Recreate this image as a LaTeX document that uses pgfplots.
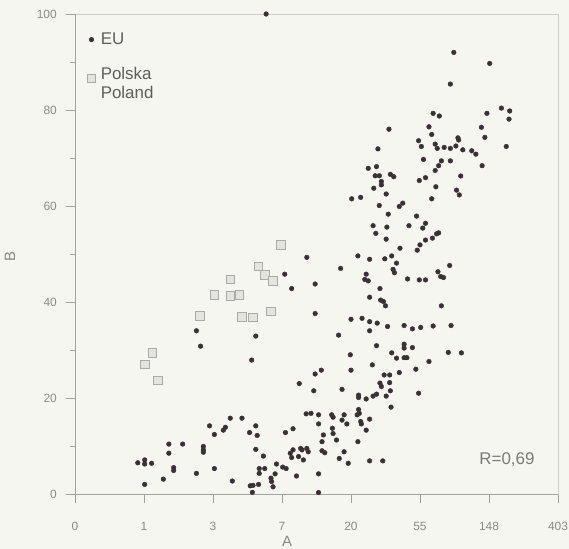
\documentclass[border=0pt]{standalone}
\usepackage{pgfplots}
\pgfplotsset{compat=1.18}
\usepackage{fontspec}
\setmainfont{Liberation Sans}
\definecolor{bgcol}{HTML}{F6F6F1}
\definecolor{framecol}{HTML}{CDCDCA}
\definecolor{axiscol}{HTML}{A3A3A0}
\definecolor{tickcol}{HTML}{A0A09C}
\definecolor{labelcol}{HTML}{8A8A86}
\definecolor{legcol}{HTML}{5E5E5B}
\definecolor{rcol}{HTML}{7A7A77}
\definecolor{dotcol}{HTML}{3A3136}
\definecolor{sqfill}{HTML}{E3E3E0}
\definecolor{sqdraw}{HTML}{AAAAA7}
\begin{document}
\begin{tikzpicture}
\fill[bgcol] (-75bp,-55bp) rectangle (494bp,494bp);
\begin{axis}[
  at={(0,0)}, anchor=south west,
  scale only axis, width=483bp, height=480bp,
  xmin=0, xmax=7, ymin=0, ymax=100,
  clip=false,
  axis line style={draw=framecol, line width=0.8bp},
  xtick={0,1,2,3,4,5,6,7}, xticklabels={0,1,3,7,20,55,148,403},
  ytick={0,20,40,60,80,100}, minor y tick num=1,
  xtick pos=bottom, ytick pos=left,
  tick align=outside, major tick length=9bp, minor tick length=5bp,
  tick style={draw=tickcol, line width=0.6bp},
  /pgf/number format/assume math mode=true,
  tick label style={font=\fontsize{12}{14}\selectfont, text=labelcol},
  xticklabel style={anchor=north, inner sep=0pt, yshift=-19bp},
  yticklabel style={anchor=east, inner sep=0pt, xshift=-9bp},
  xlabel={A}, ylabel={B},
  xlabel style={at={(axis description cs:0.439,-0.088)}, anchor=north, inner sep=0pt, font=\fontsize{15}{17}\selectfont, text=labelcol},
  ylabel style={at={(axis description cs:-0.1346,0.494)}, anchor=center, inner sep=0pt, font=\fontsize{15}{17}\selectfont, text=labelcol},
  legend style={at={(axis cs:0.13,96.9)}, anchor=north west, draw=none, fill=none,
    font=\fontsize{17}{19}\selectfont, text=legcol, cells={anchor=west}, row sep=16bp,
    nodes={inner xsep=5bp}},
  legend cell align=left,
]
\draw[axiscol, line width=0.8bp] (rel axis cs:0,1) -- (rel axis cs:0,0) -- (rel axis cs:1,0);
\addplot[only marks, mark=*, mark size=2.35bp, mark options={draw=dotcol, fill=dotcol}] coordinates {
(2.77,100) (3.36,49.3) (3.04,45.8) (3.14,42.8) (1.76,34.0) (1.82,30.8) (2.62,32.9) (2.56,27.9) (3.25,23.0) (3.53,0.3)
(3.35,16.7) (1.95,14.2) (2.15,13.3) (2.18,13.9) (2.25,15.8) (2.42,15.8) (2.02,12.4) (2.62,14.2) (2.53,12.8) (2.64,12.2)
(3.05,12.8) (3.16,13.6) (0.91,6.5) (1.01,7.1) (1.01,6.25) (1.11,6.4) (1.01,2.0) (1.36,10.4) (1.36,8.5) (1.56,10.4)
(1.28,3.1) (1.43,5.5) (1.43,4.9) (1.86,9.9) (1.86,9.2) (1.86,8.7) (1.76,4.3) (2.02,5.3) (2.28,2.7) (2.62,9.3)
(2.73,7.9) (2.67,5.3) (2.67,4.3) (2.75,5.3) (2.66,2.0) (2.54,1.7) (2.58,1.8) (2.57,0.35) (2.84,3.3) (2.85,2.6)
(2.87,1.5) (2.90,4.2) (2.92,6.25) (3.01,5.6) (3.06,5.3) (3.21,3.75) (3.12,8.5) (3.14,7.6) (3.16,9.2) (3.24,7.8)
(3.27,9.5) (3.31,7.1) (3.36,9.5) (3.38,8.8) (3.29,9.2)
(3.46,21.5) (3.87,21.8) (4.42,23.1) (4.44,22.4) (4.56,23.2) (4.57,21.5) (4.11,20.6) (4.11,20.1) (4.22,19.8) (4.32,20.4)
(4.37,20.8) (4.51,20.4) (4.58,18.1) (4.98,21.0) (3.42,16.8) (3.53,16.5) (3.72,16.5) (3.74,16.0) (3.90,16.5) (3.87,15.4)
(3.94,14.6) (4.11,17.6) (4.12,16.8) (4.09,16.5) (4.14,15.1) (4.15,14.6) (4.27,15.6) (4.22,13.3) (3.53,14.6) (3.73,13.7)
(3.74,12.6) (3.79,11.25) (3.60,12.3) (3.58,10.9) (4.10,10.9) (3.58,9.0) (3.62,8.6) (3.90,8.8) (3.83,7.4) (3.96,6.4)
(4.27,6.9) (4.46,6.9) (3.53,4.2)
(4.51,62.5) (4.01,61.5) (4.14,61.8) (5.17,61.5) (5.57,62.3) (4.41,60.1) (4.54,58.3) (4.70,59.9) (4.75,60.6) (4.95,57.9)
(4.32,55.9) (4.52,55.6) (4.36,54.3) (4.51,53.1) (4.84,55.9) (5.08,56.4) (5.04,55.4) (5.08,52.9) (5.18,53.3) (5.24,54.2)
(5.27,54.4) (5.0,51.9) (4.96,50.8) (4.71,51.2) (4.10,49.6) (4.27,48.9) (4.49,49.0) (4.59,49.6) (4.66,48.1) (3.85,47.0)
(4.61,46.8) (4.63,46.1) (5.43,47.6) (5.26,46.3) (5.30,45.3) (5.34,45.1) (4.22,45.8) (4.20,44.7) (4.25,44.4) (4.82,44.8)
(4.99,44.6) (5.08,44.6) (3.48,43.75) (4.42,42.8) (4.27,41.0) (4.43,40.4) (4.47,40.1) (4.50,39.2) (5.31,39.2) (3.48,37.6)
(4.0,36.4) (4.16,36.6) (4.27,35.9) (4.27,34.0) (4.38,35.6) (4.53,34.9) (4.77,35.1) (4.89,34.4) (5.01,34.7) (5.19,35.0)
(5.45,35.1) (3.82,33.1) (4.37,30.9) (4.77,31.2) (4.77,30.4) (4.89,30.5) (3.99,29.0) (4.59,29.4) (4.66,28.3) (4.77,28.4)
(4.81,28.4) (5.41,29.5) (5.60,29.4) (5.13,27.6) (4.31,26.9) (4.0,25.8) (3.57,25.8) (3.48,25.0) (4.94,26.0) (4.70,25.3)
(4.48,24.8) (4.56,24.8)
(5.49,92.0) (6.01,89.7) (5.44,85.4) (6.18,80.4) (6.30,79.8) (6.29,78.1) (5.97,79.3) (5.19,79.3) (5.28,78.75) (5.89,76.4)
(5.94,74.3) (6.25,72.4) (5.13,76.5) (5.17,74.9) (4.55,76.0) (4.98,73.6) (5.02,72.4) (5.22,72.9) (5.25,72.0) (5.35,72.2)
(5.44,72.0) (5.52,72.5) (5.56,73.75) (5.55,74.2) (5.62,71.7) (5.75,71.5) (5.81,70.8) (4.39,71.9) (5.05,69.7) (5.31,69.4)
(5.44,69.4) (5.27,68.4) (5.22,67.4) (5.90,68.4) (5.59,66.25) (4.25,67.85) (4.37,68.2) (4.35,66.3) (4.41,66.3) (4.44,65.1)
(4.44,64.4) (4.57,66.6) (4.62,66.1) (4.99,65.3) (5.08,65.9) (5.23,64.0) (4.33,63.7) (5.53,63.3)
};
\addlegendentry{EU}
\addplot[only marks, mark=square*, mark size=4.3bp, mark options={draw=sqdraw, fill=sqfill, line width=0.8bp}] coordinates {
(2.98,51.9) (2.66,47.4) (2.75,45.6) (2.87,44.4) (2.25,44.7) (2.02,41.5) (2.25,41.25) (2.38,41.5) (1.81,37.1) (2.42,36.9)
(2.58,36.8) (2.84,38.0) (1.12,29.4) (1.01,27.0) (1.20,23.7)
};
\addlegendentry{\begin{tabular}{@{}l@{}}Polska\\Poland\end{tabular}}
\node[text=rcol, font=\fontsize{17}{19}\selectfont] at (axis cs:6.26,7.1) {R=0,69};
\end{axis}
\pgfresetboundingbox
\path[use as bounding box] (-75bp,-55bp) rectangle (494bp,494bp);
\end{tikzpicture}
\end{document}
